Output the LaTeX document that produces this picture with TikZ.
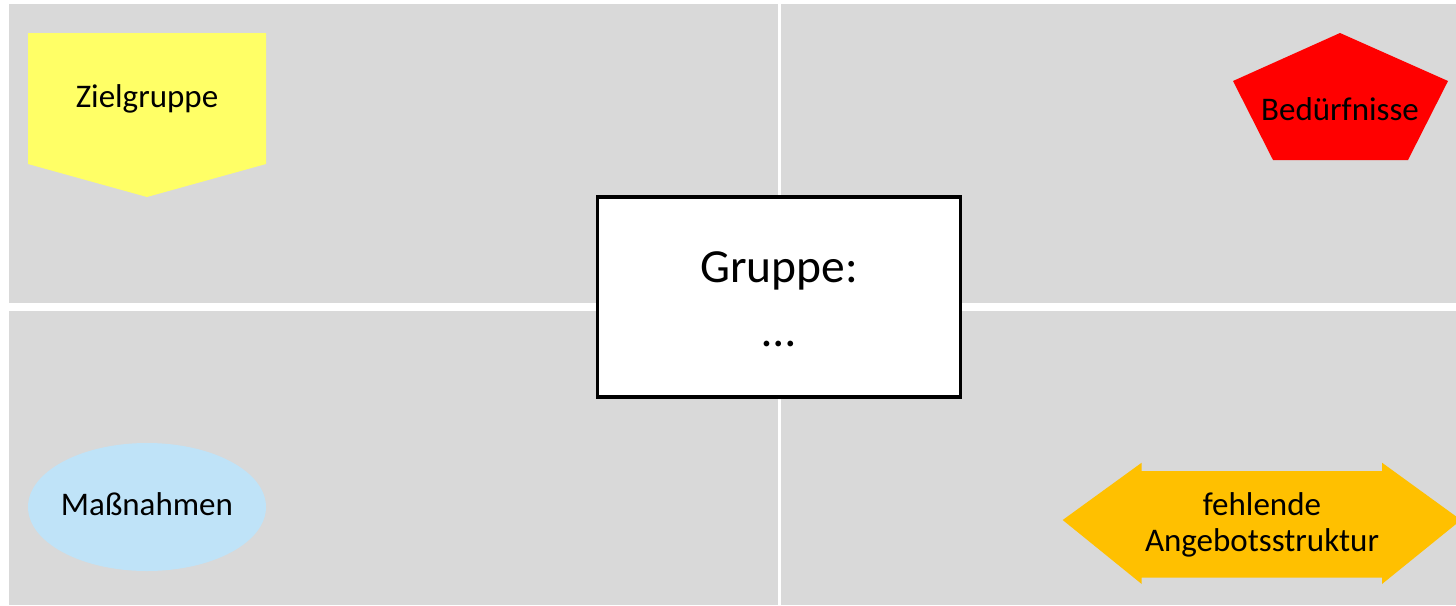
\documentclass[tikz,border=0pt]{standalone}
\usepackage{fontspec}
\setmainfont{Carlito}
\definecolor{panel}{HTML}{D9D9D9}
\definecolor{zyellow}{HTML}{FFFF66}
\definecolor{bred}{HTML}{FF0000}
\definecolor{mblue}{HTML}{BFE3F8}
\definecolor{aorange}{HTML}{FFC000}
\tikzset{
  lbl/.style={font=\fontsize{33}{36}\selectfont, anchor=base, inner sep=0pt, align=center},
  biglbl/.style={font=\fontsize{47.5}{64}\selectfont, anchor=base, inner sep=0pt, align=center},
  panelfill/.style={fill=panel},
}
\begin{document}
\begin{tikzpicture}[x=1pt,y=-1pt]
\useasboundingbox (0,0) rectangle (1456,605);
\clip (0,0) rectangle (1456,605);
\fill[white] (0,0) rectangle (1456,605);
% quadrants
\fill[panelfill] (9,4) rectangle (777.5,302.7);
\fill[panelfill] (781,4) rectangle (1456,302.7);
\fill[panelfill] (9,311) rectangle (777.5,605);
\fill[panelfill] (781,311) rectangle (1456,605);
% Zielgruppe (off-page connector)
\fill[zyellow] (28,33) -- (266,33) -- (266,164) -- (147,197) -- (28,164) -- cycle;
\node[lbl] (ziel) at (147,107.3) {Zielgruppe};
% Bedürfnisse (pentagon)
\fill[bred] (1340,33) -- (1448,81) -- (1408,160) -- (1273,160) -- (1233,81) -- cycle;
\node[lbl] (bed) at (1340,120.7) {Bedürfnisse};
% Maßnahmen (ellipse)
\fill[mblue] (147,507) ellipse [x radius=119, y radius=64];
\node[lbl] (mass) at (147,515.7) {Maßnahmen};
% fehlende Angebotsstruktur (double arrow)
\fill[aorange] (1062.7,520) -- (1141.7,462.7) -- (1141.7,471) -- (1382,471) -- (1382,462.7)
  -- (1461,520) -- (1382,584) -- (1382,577.7) -- (1141.7,577.7) -- (1141.7,584) -- cycle;
\node[lbl] (fehl) at (1262,551) {fehlende\\Angebotsstruktur};
% centre box
\node[draw=black, line width=3.5pt, fill=white, minimum width=363pt, minimum height=200pt, inner sep=0pt] (grp) at (779,297) {};
\node[biglbl] (grptext) at (779,346.7) {Gruppe:\\…};
\end{tikzpicture}
\end{document}
